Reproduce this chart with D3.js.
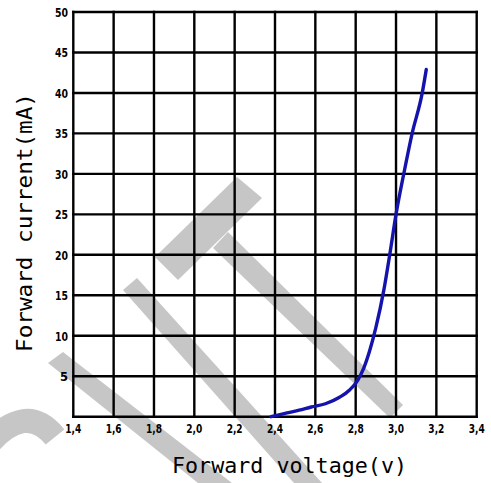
<!DOCTYPE html>
<html>
<head>
<meta charset="utf-8">
<script src="https://cdn.jsdelivr.net/npm/d3@7"></script>
<style>
  html, body { margin: 0; padding: 0; background: #ffffff; }
  svg { display: block; }
</style>
</head>
<body>
<script>
// ---- data ----
const voltage = [2.38, 2.45, 2.52, 2.58, 2.65, 2.72, 2.77, 2.81, 2.84, 2.87, 2.90, 2.94, 2.97, 3.00, 3.04, 3.08, 3.13, 3.15];
const current = [0, 0.4, 0.8, 1.2, 1.6, 2.4, 3.3, 4.5, 6.0, 8.2, 11.0, 15.7, 20.2, 25.0, 30.2, 35.0, 40.0, 42.9];
const xTicks = [1.4, 1.6, 1.8, 2.0, 2.2, 2.4, 2.6, 2.8, 3.0, 3.2, 3.4];
const xTickLabels = ["1,4", "1,6", "1,8", "2,0", "2,2", "2,4", "2,6", "2,8", "3,0", "3,2", "3,4"];
const yTicks = [0, 5, 10, 15, 20, 25, 30, 35, 40, 45, 50];
const yTickLabels = ["", "5", "10", "15", "20", "25", "30", "35", "40", "45", "50"];
const xTitle = "Forward voltage(v)";
const yTitle = "Forward current(mA)";

const W = 491, H = 483;
const svg = d3.select("body").append("svg").attr("width", W).attr("height", H);

const x = d3.scaleLinear().domain([1.4, 3.4]).range([73.3, 476.7]);
const y = d3.scaleLinear().domain([0, 50]).range([416.7, 12]);

// ---- background watermark (decoration) ----
const wm = svg.append("g").attr("fill", "#c6c6c6").attr("stroke", "none");
const wmPolys = [
  [[123, 290], [137, 278], [322, 483], [294, 483]],
  [[155, 257], [237, 177], [262, 198], [178, 280]],
  [[213, 248], [228, 232], [403, 405], [390, 418]],
  [[48, 363], [63, 352], [232, 483], [198, 483]]
];
wmPolys.forEach(p => wm.append("polygon").attr("points", p.map(d => d.join(",")).join(" ")));
svg.append("path").attr("d", "M-15,448 Q25,400 55,437")
  .attr("fill", "none").attr("stroke", "#c6c6c6").attr("stroke-width", 24);

// ---- grid ----
const grid = svg.append("g").attr("stroke", "#000").attr("stroke-width", 2.4);
grid.selectAll("line.v").data(xTicks).join("line")
  .attr("x1", d => x(d)).attr("x2", d => x(d))
  .attr("y1", y(0) + 1.2).attr("y2", y(50) - 1.2);
grid.selectAll("line.h").data(yTicks).join("line")
  .attr("y1", d => y(d)).attr("y2", d => y(d))
  .attr("x1", x(1.4) - 1.2).attr("x2", x(3.4) + 1.2);

// ---- tick labels ----
const tickFont = "'DejaVu Sans Condensed', 'DejaVu Sans', sans-serif";
svg.append("g").selectAll("text").data(xTicks).join("text")
  .attr("x", d => x(d)).attr("y", 433)
  .attr("text-anchor", "middle")
  .attr("font-family", tickFont).attr("font-weight", "bold").attr("font-size", 13)
  .attr("textLength", 16).attr("lengthAdjust", "spacingAndGlyphs")
  .attr("fill", "#000")
  .text((d, i) => xTickLabels[i]);

svg.append("g").selectAll("text").data(yTicks.filter((d, i) => yTickLabels[i] !== "")).join("text")
  .attr("x", 68).attr("y", d => y(d) + 5)
  .attr("text-anchor", "end")
  .attr("font-family", tickFont).attr("font-weight", "bold").attr("font-size", 13)
  .attr("fill", "#000")
  .each(function (d) {
    const lbl = yTickLabels[yTicks.indexOf(d)];
    d3.select(this).attr("textLength", lbl.length > 1 ? 13 : 8).attr("lengthAdjust", "spacingAndGlyphs").text(lbl);
  });

// ---- curve ----
const pts = voltage.map((v, i) => [v, current[i]]);
svg.append("path").datum(pts)
  .attr("fill", "none").attr("stroke", "#1414ac").attr("stroke-width", 3.4)
  .attr("stroke-linecap", "round").attr("stroke-linejoin", "round")
  .attr("d", d3.line().x(d => x(d[0])).y(d => y(d[1])).curve(d3.curveMonotoneX));

// ---- axis titles ----
const titleFont = "'DejaVu Sans Mono', monospace";
svg.append("text").attr("x", 172).attr("y", 473)
  .attr("font-family", titleFont).attr("font-size", 22).attr("fill", "#000")
  .attr("textLength", 235).attr("lengthAdjust", "spacingAndGlyphs")
  .text(xTitle);
svg.append("text").attr("transform", "translate(32,352) rotate(-90)")
  .attr("font-family", titleFont).attr("font-size", 22).attr("fill", "#000")
  .attr("textLength", 259).attr("lengthAdjust", "spacingAndGlyphs")
  .text(yTitle);
</script>
</body>
</html>
